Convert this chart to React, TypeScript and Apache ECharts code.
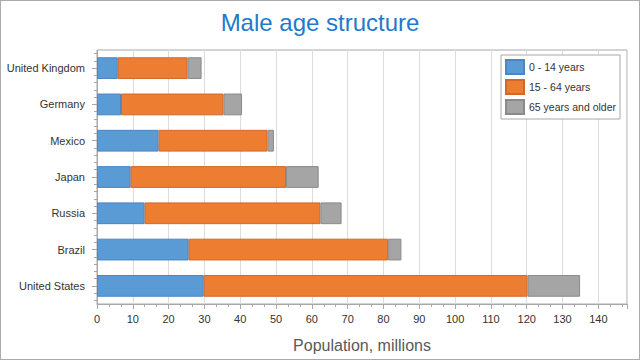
import React, { useEffect, useRef } from "react";
import * as echarts from "echarts";

const categories = ["United Kingdom", "Germany", "Mexico", "Japan", "Russia", "Brazil", "United States"];
const young = [5.8, 6.7, 17.2, 9.4, 13.3, 25.6, 29.8];
const working = [19.5, 28.6, 30.4, 43.4, 49.1, 55.7, 90.4];
const elderly = [3.9, 5.2, 1.8, 9.1, 5.9, 3.7, 14.7];
const seriesNames = ["0 - 14 years", "15 - 64 years", "65 years and older"];

const FONT = "Liberation Sans";

export default function App() {
  const ref = useRef<HTMLDivElement>(null);
  useEffect(() => {
    document.body.style.margin = "0";
    const chart = echarts.init(ref.current!, null, { renderer: "svg" });
    const minorVals: number[] = [];
    for (let i = 0; i < categories.length; i++) {
      [0.1, 0.3, 0.7, 0.9].forEach((o) => minorVals.push(+(i + o).toFixed(2)));
    }
    const mk = (name: string, data: number[], color: string, border: string) => ({
      name,
      type: "bar",
      stack: "total",
      barCategoryGap: "40%",
      data,
      itemStyle: { color, borderColor: border, borderWidth: 1 },
    });
    chart.setOption({
      animation: false,
      backgroundColor: "#ffffff",
      textStyle: { fontFamily: FONT },
      title: {
        text: "Male age structure",
        left: "center",
        top: 4,
        textStyle: { color: "#1f7acd", fontSize: 24, fontWeight: "normal", fontFamily: FONT },
      },
      legend: {
        orient: "vertical",
        right: 19,
        top: 54,
        icon: "rect",
        itemWidth: 18,
        itemHeight: 14,
        itemGap: 4,
        padding: [4, 4, 4, 4],
        borderColor: "#a8a8a8",
        borderWidth: 1,
        backgroundColor: "#ffffff",
        textStyle: { fontSize: 10.5, color: "#333333", fontFamily: FONT },
        data: seriesNames,
      },
      grid: {
        left: 96,
        right: 12,
        top: 49,
        bottom: 55,
        show: true,
        borderColor: "#a8a8a8",
        borderWidth: 1,
        backgroundColor: "transparent",
      },
      xAxis: {
        type: "value",
        min: 0,
        max: 148,
        interval: 10,
        name: "Population, millions",
        nameLocation: "middle",
        nameGap: 33,
        nameTextStyle: { fontSize: 16, color: "#595959", fontFamily: FONT },
        axisLine: { show: true, lineStyle: { color: "#a8a8a8" } },
        axisTick: { show: true, length: 5, lineStyle: { color: "#a8a8a8" } },
        minorTick: { show: true, splitNumber: 3, length: 3, lineStyle: { color: "#a8a8a8" } },
        axisLabel: { fontSize: 11, color: "#333333", margin: 9, showMaxLabel: false },
        splitLine: { show: true, lineStyle: { color: "#dcdcdc" } },
      },
      yAxis: [
        {
          type: "category",
          data: categories,
          inverse: true,
          axisLine: { show: true, lineStyle: { color: "#a8a8a8" } },
          axisTick: { show: true, alignWithLabel: true, length: 5, lineStyle: { color: "#a8a8a8" } },
          axisLabel: { fontSize: 11, color: "#333333", margin: 12 },
          splitLine: { show: false },
        },
        {
          type: "value",
          min: 0,
          max: 7,
          position: "left",
          axisLine: { show: false },
          axisLabel: { show: false },
          splitLine: { show: false },
          axisTick: {
            show: true,
            length: 3,
            customValues: minorVals,
            lineStyle: { color: "#a8a8a8" },
          },
        },
      ],
      series: [
        mk(seriesNames[0], young, "#5b9bd5", "#4a86bf"),
        mk(seriesNames[1], working, "#ed7d31", "#d2682a"),
        mk(seriesNames[2], elderly, "#a5a5a5", "#8a8a8a"),
      ],
    });
    return () => chart.dispose();
  }, []);
  return (
    <div
      style={{
        position: "fixed",
        left: 0,
        top: 0,
        width: 640,
        height: 360,
        boxSizing: "border-box",
        border: "1px solid #ababab",
      }}
    >
      <div ref={ref} style={{ width: 638, height: 358 }} />
    </div>
  );
}
